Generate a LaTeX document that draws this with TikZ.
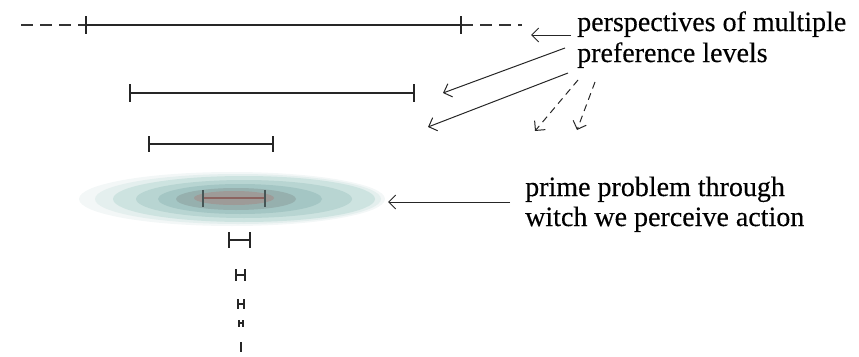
\documentclass[tikz,border=0pt]{standalone}
\usepackage{fontspec}
\setmainfont{Liberation Serif}
\newfontfamily\heavyserif{Liberation Serif}[FakeBold=0.25]
\usetikzlibrary{arrows.meta}
\begin{document}
\begin{tikzpicture}[x=1pt,y=-1pt,
  seg/.style={line width=1.3pt,black!85},
  tick/.style={line width=1.5pt,black!85},
  ext/.style={line width=1.2pt,black!80,dash pattern=on 12pt off 7pt},
  lbl/.style={anchor=base west,inner sep=0pt,font=\fontsize{28}{31}\heavyserif,text=black},
  pointer/.style={line width=1pt,black!85,-{Straight Barb[length=7pt,width=14pt]}},
  dpointer/.style={pointer,dash pattern=on 7pt off 5pt}]
\useasboundingbox (0,0) rectangle (859,356);
% top line with extensions
\coordinate (l1a) at (86,25); \coordinate (l1b) at (461,25);
\draw[ext] (21,25) -- (l1a);
\draw[ext] (l1b) -- (522,25);
\draw[seg] (l1a) -- (l1b);
\draw[tick] (86,16) -- (86,34) (461,16) -- (461,34);
% second line
\coordinate (l2a) at (130,93); \coordinate (l2b) at (414,93);
\draw[seg] (l2a) -- (l2b);
\draw[tick] (130,84) -- (130,102) (414,84) -- (414,102);
% third line
\coordinate (l3a) at (149,144); \coordinate (l3b) at (273,144);
\draw[seg] (l3a) -- (l3b);
\draw[tick] (149,136) -- (149,152) (273,136) -- (273,152);
% blurred ellipse
\fill[color={rgb,255:red,243;green,247;blue,247}] (232,199) ellipse [x radius=153,y radius=27];
\fill[color={rgb,255:red,228;green,239;blue,238}] (238,199) ellipse [x radius=143,y radius=25];
\fill[color={rgb,255:red,205;green,227;blue,224}] (244,199) ellipse [x radius=131,y radius=23];
\fill[color={rgb,255:red,184;green,213;blue,210}] (244,199) ellipse [x radius=108,y radius=19];
\fill[color={rgb,255:red,164;green,198;blue,196}] (240,199) ellipse [x radius=82,y radius=15];
\fill[color={rgb,255:red,150;green,176;blue,174}] (236,199) ellipse [x radius=60,y radius=11];
\fill[color={rgb,255:red,158;green,155;blue,152}] (234,198) ellipse [x radius=40,y radius=7];
\coordinate (pa) at (203,198); \coordinate (pb) at (265,198);
\draw[line width=1.1pt,color={rgb,255:red,140;green,100;blue,96}] (pa) -- (pb);
\draw[line width=1.3pt,color={rgb,255:red,70;green,85;blue,85}] (203,190) -- (203,207) (265,190) -- (265,207);
% small lines below
\draw[seg] (229,240) -- (250,240);
\draw[tick] (229,232) -- (229,248) (250,232) -- (250,248);
\draw[seg] (236,275) -- (245,275);
\draw[tick] (236,269) -- (236,281) (245,269) -- (245,281);
\draw[line width=2pt,black!85] (238,304) -- (244,304);
\draw[line width=2pt,black!85] (238,299) -- (238,309) (244,299) -- (244,309);
\draw[line width=1.6pt,black!85] (239,323) -- (243,323);
\draw[line width=1.6pt,black!85] (239,320) -- (239,327) (243,320) -- (243,327);
\draw[tick] (241,342) -- (241,352);
% labels
\node[lbl] (t1) at (577,31) {perspectives of multiple};
\node[lbl] (t2) at (577,62) {preference levels};
\node[lbl] (t3) at (525,196) {prime problem through};
\node[lbl] (t4) at (525,226) {witch we perceive action};
% pointer arrows
\coordinate (a1s) at (571,35); \coordinate (a1e) at (531,35);
\coordinate (a2s) at (565,48); \coordinate (a2e) at (443,93);
\coordinate (a3s) at (568,73); \coordinate (a3e) at (428,127);
\coordinate (a4s) at (578,80); \coordinate (a4e) at (535,131);
\coordinate (a5s) at (595,82); \coordinate (a5e) at (577,130);
\coordinate (a6s) at (510,202); \coordinate (a6e) at (388,202);
\draw[pointer] (a1s) -- (a1e);
\draw[pointer] (a2s) -- (a2e);
\draw[pointer] (a3s) -- (a3e);
\draw[dpointer] (a4s) -- (a4e);
\draw[dpointer] (a5s) -- (a5e);
\draw[pointer] (a6s) -- (a6e);
\end{tikzpicture}
\end{document}
